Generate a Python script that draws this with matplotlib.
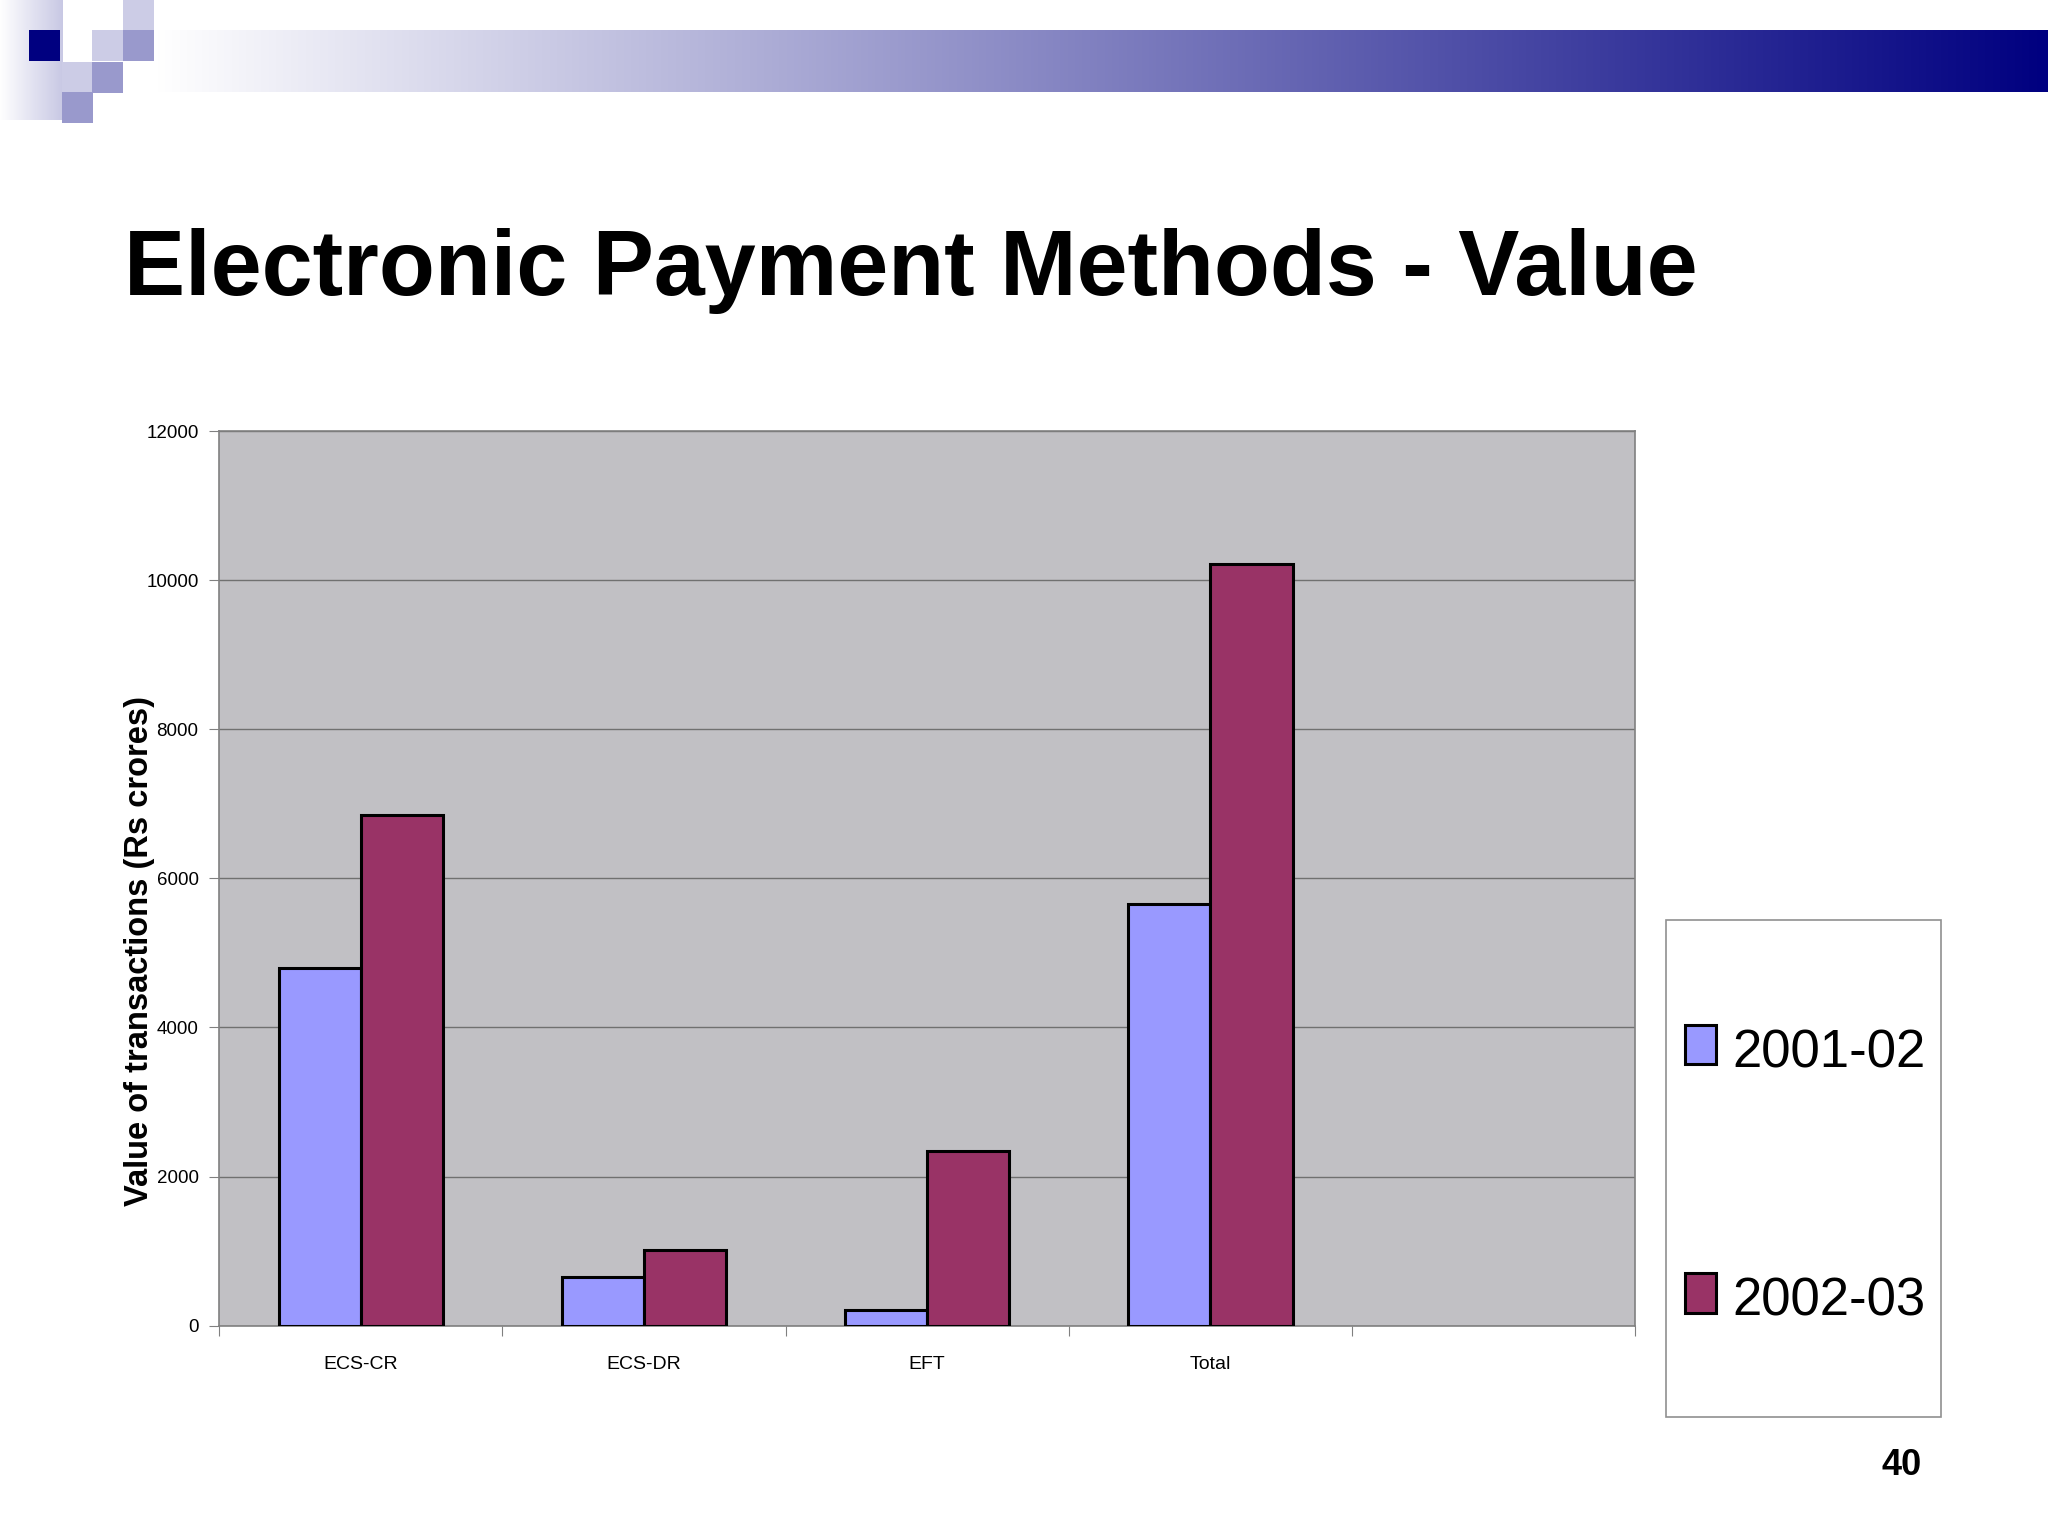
import numpy as np
import matplotlib
matplotlib.use("Agg")
import matplotlib.pyplot as plt
from matplotlib.patches import Rectangle

# ----------------------
# DATA
# ----------------------
categories = ["ECS-CR", "ECS-DR", "EFT", "Total"]
series_labels = ["2001-02", "2002-03"]
values_2001 = [4800, 648, 210, 5658]
values_2002 = [6850, 1016, 2347, 10213]
series_colors = ["#9999FF", "#993366"]
yticks = [0, 2000, 4000, 6000, 8000, 10000, 12000]

ARIAL = ["Liberation Sans", "DejaVu Sans"]

W, H = 2048, 1536
fig = plt.figure(figsize=(W / 100, H / 100), dpi=100)
fig.patch.set_facecolor("white")

# ----------------------
# SLIDE DECORATION (pixel coords)
# ----------------------
bg = fig.add_axes([0, 0, 1, 1], zorder=0)
bg.set_xlim(0, W)
bg.set_ylim(H, 0)
bg.axis("off")

# banner gradient white -> navy
grad = np.linspace(0, 1, 512)
navy = np.array([0, 0, 128]) / 255
white = np.array([1, 1, 1])
band = (white[None, :] * (1 - grad[:, None]) + navy[None, :] * grad[:, None])[None, :, :]
bg.imshow(band, extent=(154, W, 92, 30), aspect="auto", zorder=1)

# left vertical strip gradient
lav = np.array([200, 200, 228]) / 255
strip = (white[None, :] * (1 - grad[:, None]) + lav[None, :] * grad[:, None])[None, :, :]
bg.imshow(strip, extent=(0, 63, 120, 0), aspect="auto", zorder=1)

squares = [
    (29, 30, "#000080"),
    (92, 30, "#CCCCE6"), (123, 0, "#CCCCE6"), (62, 62, "#CCCCE6"),
    (123, 30, "#9999CC"), (92, 62, "#9999CC"), (62, 92, "#9999CC"),
]
for sx, sy, sc in squares:
    bg.add_patch(Rectangle((sx, sy), 31, 31, facecolor=sc, edgecolor="none", zorder=2))

# title + page number
fig.text(0.0606, 0.808, "Electronic Payment Methods - Value", family=ARIAL,
         fontweight="bold", fontsize=66, va="baseline", ha="left")
fig.text(0.9286, 0.046, "40", family=ARIAL, fontweight="bold", fontsize=26,
         ha="center", va="center")

# ----------------------
# CHART
# ----------------------
ax = fig.add_axes([0.1071, 0.1369, 0.6913, 0.5825], zorder=2)
ax.set_facecolor("#C1C0C4")

x = np.arange(len(categories))
width = 0.29
ax.bar(x - width / 2, values_2001, width, color=series_colors[0],
       edgecolor="black", linewidth=2.2, zorder=3, label=series_labels[0])
ax.bar(x + width / 2, values_2002, width, color=series_colors[1],
       edgecolor="black", linewidth=2.2, zorder=3, label=series_labels[1])

ax.set_xlim(-0.5, 4.5)
ax.set_ylim(0, 12000)
ax.set_yticks(yticks)
ax.set_yticklabels([str(t) for t in yticks], family=ARIAL, fontsize=13.5)
ax.grid(axis="y", color="#707070", linewidth=1, zorder=1)

# boundaries get tick marks, centres get the labels
ax.set_xticks(np.arange(-0.5, 5.0, 1.0))
ax.set_xticklabels([])
ax.set_xticks(x, minor=True)
ax.set_xticklabels(categories, minor=True, family=ARIAL, fontsize=14)
ax.tick_params(axis="x", which="minor", length=0, pad=22)
ax.tick_params(axis="x", which="major", length=7, color="#808080")
ax.tick_params(axis="y", length=7, color="#808080", pad=8)

for sp in ax.spines.values():
    sp.set_color("#808080")
    sp.set_linewidth(1.2)

fig.text(0.068, 0.381, "Value of transactions (Rs crores)", family=ARIAL,
         fontweight="bold", fontsize=23.5, rotation=90, ha="center", va="center")

# ----------------------
# LEGEND (drawn by hand to match slide spacing)
# ----------------------
fig.patches.append(Rectangle((0.8135, 0.0775), 0.1343, 0.3236, transform=fig.transFigure,
                             facecolor="white", edgecolor="#909090", linewidth=1.2))
leg_y = [0.307, 0.1454]
for lab, col, ly in zip(series_labels, series_colors, leg_y):
    fig.patches.append(Rectangle((0.8227, ly), 0.0153, 0.0255, transform=fig.transFigure,
                                 facecolor=col, edgecolor="black", linewidth=2.2))
    fig.text(0.8457, ly - 0.002, lab, family=ARIAL, fontsize=38,
             ha="left", va="baseline")

fig.savefig("out.png", dpi=100)
